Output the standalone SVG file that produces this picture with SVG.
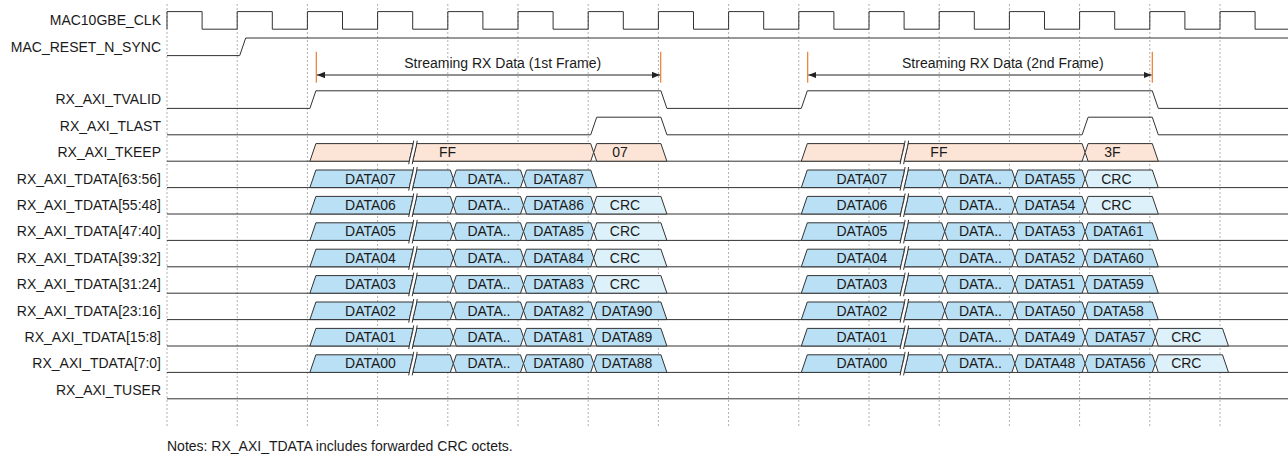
<svg xmlns="http://www.w3.org/2000/svg" xmlns:xlink="http://www.w3.org/1999/xlink" width="1288" height="456" viewBox="0 0 1288 456">
<style>
text{font-family:"Liberation Sans",Arial,sans-serif;font-size:14px;fill:#1a1a1a}
.lbl{text-anchor:end}
.bt{text-anchor:middle}
.wave{fill:none;stroke:#333;stroke-width:1}
.grid{stroke:#b0b0b0;stroke-width:1;stroke-dasharray:2 2}
.d{fill:#bae0f5;stroke:#333;stroke-width:1}
.c{fill:#ddf1fb;stroke:#333;stroke-width:1}
.k{fill:#fce5d7;stroke:#333;stroke-width:1}
.mark{stroke:#ed7d31;stroke-width:1.2}
.arr{stroke:#222;stroke-width:1;fill:none}
</style>
<defs>
<marker id="ah" markerWidth="9" markerHeight="7" refX="8" refY="3.2" orient="auto-start-reverse" markerUnits="userSpaceOnUse">
<path d="M0,0 L8,3.2 L0,6.4 Z" fill="#222"/>
</marker>
<path id="s1" d="M0,0 L6,-17.6 L103.16,-17.6 L99.44,0 Z"/>
<path id="s2" d="M0,0 L3.72,-17.6 L37.46,-17.6 L40.46,-8.8 L37.46,0 Z"/>
<path id="s2k" d="M0,0 L3.72,-17.6 L177.86,-17.6 L180.86,-8.8 L177.86,0 Z"/>
<path id="hx" d="M0,-8.8 L3,-17.6 L67.2,-17.6 L70.2,-8.8 L67.2,0 L3,0 Z"/>
<path id="he" d="M0,-8.8 L3,-17.6 L67.2,-17.6 L73.2,0 L3,0 Z"/>
<g id="brk">
<path d="M-4,3 L-0.5,3 L4.5,-20.6 L1,-20.6 Z" fill="#fff" stroke="none"/>
<path d="M-4,3 C-2.8,-5 0.2,-13 1,-20.6 M-0.5,3 C0.7,-5 3.7,-13 4.5,-20.6" fill="none" stroke="#333" stroke-width="1"/>
</g>
</defs>
<rect width="1288" height="456" fill="#fff"/>

<g id="grid">
<path class="grid" d="M167,4V426M237.2,4V426M307.4,4V426M377.6,4V426M447.8,4V426M518,4V426M588.2,4V426M658.4,4V426M728.6,4V426M798.8,4V426M869,4V426M939.2,4V426M1009.4,4V426M1079.6,4V426M1149.8,4V426M1220,4V426"/>
</g>

<g id="labels">
<text class="lbl" x="161" y="25.2">MAC10GBE_CLK</text>
<text class="lbl" x="161" y="51.6">MAC_RESET_N_SYNC</text>
<text class="lbl" x="161" y="104.4">RX_AXI_TVALID</text>
<text class="lbl" x="161" y="130.8">RX_AXI_TLAST</text>
<text class="lbl" x="161" y="157.2">RX_AXI_TKEEP</text>
<text class="lbl" x="161" y="183.6">RX_AXI_TDATA[63:56]</text>
<text class="lbl" x="161" y="210">RX_AXI_TDATA[55:48]</text>
<text class="lbl" x="161" y="236.4">RX_AXI_TDATA[47:40]</text>
<text class="lbl" x="161" y="262.8">RX_AXI_TDATA[39:32]</text>
<text class="lbl" x="161" y="289.2">RX_AXI_TDATA[31:24]</text>
<text class="lbl" x="161" y="315.6">RX_AXI_TDATA[23:16]</text>
<text class="lbl" x="161" y="342">RX_AXI_TDATA[15:8]</text>
<text class="lbl" x="161" y="368.4">RX_AXI_TDATA[7:0]</text>
<text class="lbl" x="161" y="394.8">RX_AXI_TUSER</text>
</g>

<g id="clk" transform="translate(0,29.2)">
<path class="wave" d="M167,0V-17.6H202.1V0H237.2V-17.6H272.3V0H307.4V-17.6H342.5V0H377.6V-17.6H412.7V0H447.8V-17.6H482.9V0H518V-17.6H553.1V0H588.2V-17.6H623.3V0H658.4V-17.6H693.5V0H728.6V-17.6H763.7V0H798.8V-17.6H833.9V0H869V-17.6H904.1V0H939.2V-17.6H974.3V0H1009.4V-17.6H1044.5V0H1079.6V-17.6H1114.7V0H1149.8V-17.6H1184.9V0H1220V-17.6H1255.1V0H1288"/>
</g>

<g id="reset" transform="translate(0,55.6)">
<path class="wave" d="M167,0H239.7L245.7,-17.6H1288"/>
</g>

<g id="tvalid" transform="translate(0,108.4)">
<path class="wave" d="M167,0H309.9L315.9,-17.6H660.9L666.9,0H801.3L807.3,-17.6H1152.3L1158.3,0H1288"/>
</g>

<g id="tlast" transform="translate(0,134.8)">
<path class="wave" d="M167,0H590.7L596.7,-17.6H660.9L666.9,0H1082.1L1088.1,-17.6H1152.3L1158.3,0H1288"/>
</g>

<g id="tkeep" transform="translate(0,161.2)">
<path class="wave" d="M167,0H1288"/>
<use href="#s1" x="309.9" class="k"/><use href="#s2k" x="412.84" class="k"/><use href="#he" x="593.7" class="k"/>
<use href="#brk" x="412.7"/>
<use href="#s1" x="801.3" class="k"/><use href="#s2k" x="904.24" class="k"/><use href="#he" x="1085.1" class="k"/>
<use href="#brk" x="904.1"/>
<text class="bt" x="447.5" y="-4">FF</text><text class="bt" x="620" y="-4">07</text>
<text class="bt" x="938.9" y="-4">FF</text><text class="bt" x="1112.5" y="-4">3F</text>
</g>

<g id="tdata63" transform="translate(0,187.6)">
<path class="wave" d="M167,0H1288"/>
<use href="#s1" x="309.9" class="d"/><use href="#s2" x="412.84" class="d"/><use href="#hx" x="453.3" class="d"/><use href="#he" x="523.5" class="d"/>
<use href="#brk" x="412.7"/>
<use href="#s1" x="801.3" class="d"/><use href="#s2" x="904.24" class="d"/><use href="#hx" x="944.7" class="d"/><use href="#hx" x="1014.9" class="d"/><use href="#he" x="1085.1" class="c"/>
<use href="#brk" x="904.1"/>
<text class="bt" x="370.5" y="-4">DATA07</text><text class="bt" x="489" y="-4">DATA..</text><text class="bt" x="558.6" y="-4">DATA87</text>
<text class="bt" x="861.9" y="-4">DATA07</text><text class="bt" x="980.4" y="-4">DATA..</text><text class="bt" x="1050" y="-4">DATA55</text><text class="bt" x="1116.4" y="-4">CRC</text>
</g>

<g id="tdata55" transform="translate(0,214)">
<path class="wave" d="M167,0H1288"/>
<use href="#s1" x="309.9" class="d"/><use href="#s2" x="412.84" class="d"/><use href="#hx" x="453.3" class="d"/><use href="#hx" x="523.5" class="d"/><use href="#he" x="593.7" class="c"/>
<use href="#brk" x="412.7"/>
<use href="#s1" x="801.3" class="d"/><use href="#s2" x="904.24" class="d"/><use href="#hx" x="944.7" class="d"/><use href="#hx" x="1014.9" class="d"/><use href="#he" x="1085.1" class="c"/>
<use href="#brk" x="904.1"/>
<text class="bt" x="370.5" y="-4">DATA06</text><text class="bt" x="489" y="-4">DATA..</text><text class="bt" x="558.6" y="-4">DATA86</text><text class="bt" x="625" y="-4">CRC</text>
<text class="bt" x="861.9" y="-4">DATA06</text><text class="bt" x="980.4" y="-4">DATA..</text><text class="bt" x="1050" y="-4">DATA54</text><text class="bt" x="1116.4" y="-4">CRC</text>
</g>

<g id="tdata47" transform="translate(0,240.4)">
<path class="wave" d="M167,0H1288"/>
<use href="#s1" x="309.9" class="d"/><use href="#s2" x="412.84" class="d"/><use href="#hx" x="453.3" class="d"/><use href="#hx" x="523.5" class="d"/><use href="#he" x="593.7" class="c"/>
<use href="#brk" x="412.7"/>
<use href="#s1" x="801.3" class="d"/><use href="#s2" x="904.24" class="d"/><use href="#hx" x="944.7" class="d"/><use href="#hx" x="1014.9" class="d"/><use href="#he" x="1085.1" class="d"/>
<use href="#brk" x="904.1"/>
<text class="bt" x="370.5" y="-4">DATA05</text><text class="bt" x="489" y="-4">DATA..</text><text class="bt" x="558.6" y="-4">DATA85</text><text class="bt" x="625" y="-4">CRC</text>
<text class="bt" x="861.9" y="-4">DATA05</text><text class="bt" x="980.4" y="-4">DATA..</text><text class="bt" x="1050" y="-4">DATA53</text><text class="bt" x="1118.4" y="-4">DATA61</text>
</g>

<g id="tdata39" transform="translate(0,266.8)">
<path class="wave" d="M167,0H1288"/>
<use href="#s1" x="309.9" class="d"/><use href="#s2" x="412.84" class="d"/><use href="#hx" x="453.3" class="d"/><use href="#hx" x="523.5" class="d"/><use href="#he" x="593.7" class="c"/>
<use href="#brk" x="412.7"/>
<use href="#s1" x="801.3" class="d"/><use href="#s2" x="904.24" class="d"/><use href="#hx" x="944.7" class="d"/><use href="#hx" x="1014.9" class="d"/><use href="#he" x="1085.1" class="d"/>
<use href="#brk" x="904.1"/>
<text class="bt" x="370.5" y="-4">DATA04</text><text class="bt" x="489" y="-4">DATA..</text><text class="bt" x="558.6" y="-4">DATA84</text><text class="bt" x="625" y="-4">CRC</text>
<text class="bt" x="861.9" y="-4">DATA04</text><text class="bt" x="980.4" y="-4">DATA..</text><text class="bt" x="1050" y="-4">DATA52</text><text class="bt" x="1118.4" y="-4">DATA60</text>
</g>

<g id="tdata31" transform="translate(0,293.2)">
<path class="wave" d="M167,0H1288"/>
<use href="#s1" x="309.9" class="d"/><use href="#s2" x="412.84" class="d"/><use href="#hx" x="453.3" class="d"/><use href="#hx" x="523.5" class="d"/><use href="#he" x="593.7" class="c"/>
<use href="#brk" x="412.7"/>
<use href="#s1" x="801.3" class="d"/><use href="#s2" x="904.24" class="d"/><use href="#hx" x="944.7" class="d"/><use href="#hx" x="1014.9" class="d"/><use href="#he" x="1085.1" class="d"/>
<use href="#brk" x="904.1"/>
<text class="bt" x="370.5" y="-4">DATA03</text><text class="bt" x="489" y="-4">DATA..</text><text class="bt" x="558.6" y="-4">DATA83</text><text class="bt" x="625" y="-4">CRC</text>
<text class="bt" x="861.9" y="-4">DATA03</text><text class="bt" x="980.4" y="-4">DATA..</text><text class="bt" x="1050" y="-4">DATA51</text><text class="bt" x="1118.4" y="-4">DATA59</text>
</g>

<g id="tdata23" transform="translate(0,319.6)">
<path class="wave" d="M167,0H1288"/>
<use href="#s1" x="309.9" class="d"/><use href="#s2" x="412.84" class="d"/><use href="#hx" x="453.3" class="d"/><use href="#hx" x="523.5" class="d"/><use href="#he" x="593.7" class="d"/>
<use href="#brk" x="412.7"/>
<use href="#s1" x="801.3" class="d"/><use href="#s2" x="904.24" class="d"/><use href="#hx" x="944.7" class="d"/><use href="#hx" x="1014.9" class="d"/><use href="#he" x="1085.1" class="d"/>
<use href="#brk" x="904.1"/>
<text class="bt" x="370.5" y="-4">DATA02</text><text class="bt" x="489" y="-4">DATA..</text><text class="bt" x="558.6" y="-4">DATA82</text><text class="bt" x="627" y="-4">DATA90</text>
<text class="bt" x="861.9" y="-4">DATA02</text><text class="bt" x="980.4" y="-4">DATA..</text><text class="bt" x="1050" y="-4">DATA50</text><text class="bt" x="1118.4" y="-4">DATA58</text>
</g>

<g id="tdata15" transform="translate(0,346)">
<path class="wave" d="M167,0H1288"/>
<use href="#s1" x="309.9" class="d"/><use href="#s2" x="412.84" class="d"/><use href="#hx" x="453.3" class="d"/><use href="#hx" x="523.5" class="d"/><use href="#he" x="593.7" class="d"/>
<use href="#brk" x="412.7"/>
<use href="#s1" x="801.3" class="d"/><use href="#s2" x="904.24" class="d"/><use href="#hx" x="944.7" class="d"/><use href="#hx" x="1014.9" class="d"/><use href="#hx" x="1085.1" class="d"/><use href="#he" x="1155.3" class="c"/>
<use href="#brk" x="904.1"/>
<text class="bt" x="370.5" y="-4">DATA01</text><text class="bt" x="489" y="-4">DATA..</text><text class="bt" x="558.6" y="-4">DATA81</text><text class="bt" x="627" y="-4">DATA89</text>
<text class="bt" x="861.9" y="-4">DATA01</text><text class="bt" x="980.4" y="-4">DATA..</text><text class="bt" x="1050" y="-4">DATA49</text><text class="bt" x="1120.2" y="-4">DATA57</text><text class="bt" x="1186.3" y="-4">CRC</text>
</g>

<g id="tdata7" transform="translate(0,372.4)">
<path class="wave" d="M167,0H1288"/>
<use href="#s1" x="309.9" class="d"/><use href="#s2" x="412.84" class="d"/><use href="#hx" x="453.3" class="d"/><use href="#hx" x="523.5" class="d"/><use href="#he" x="593.7" class="d"/>
<use href="#brk" x="412.7"/>
<use href="#s1" x="801.3" class="d"/><use href="#s2" x="904.24" class="d"/><use href="#hx" x="944.7" class="d"/><use href="#hx" x="1014.9" class="d"/><use href="#hx" x="1085.1" class="d"/><use href="#he" x="1155.3" class="c"/>
<use href="#brk" x="904.1"/>
<text class="bt" x="370.5" y="-4">DATA00</text><text class="bt" x="489" y="-4">DATA..</text><text class="bt" x="558.6" y="-4">DATA80</text><text class="bt" x="627" y="-4">DATA88</text>
<text class="bt" x="861.9" y="-4">DATA00</text><text class="bt" x="980.4" y="-4">DATA..</text><text class="bt" x="1050" y="-4">DATA48</text><text class="bt" x="1120.2" y="-4">DATA56</text><text class="bt" x="1186.3" y="-4">CRC</text>
</g>

<g id="tuser" transform="translate(0,398.8)">
<path class="wave" d="M167,0H1288"/>
</g>

<g id="connectors">
<path class="mark" d="M316.3,51.7V82.7M660.7,51.7V82.7M807.7,51.7V82.7M1152.3,51.7V82.7"/>
<path class="arr" d="M317,75H660" marker-start="url(#ah)" marker-end="url(#ah)"/>
<path class="arr" d="M808.4,75H1151.6" marker-start="url(#ah)" marker-end="url(#ah)"/>
<text class="bt" x="502.7" y="68">Streaming RX Data (1st Frame)</text>
<text class="bt" x="1002.8" y="68">Streaming RX Data (2nd Frame)</text>
</g>

<g id="notes">
<text x="167" y="450.8">Notes: RX_AXI_TDATA includes forwarded CRC octets.</text>
</g>
</svg>
